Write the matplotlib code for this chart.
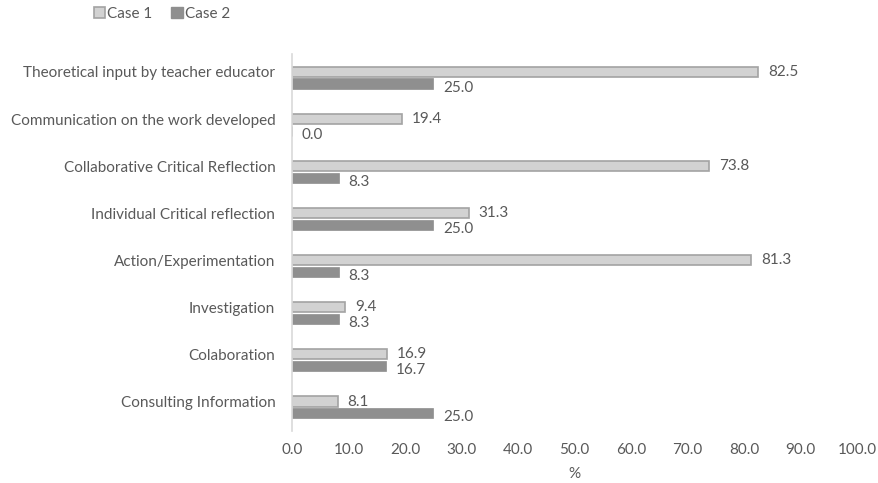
import matplotlib
matplotlib.use("Agg")
import matplotlib.pyplot as plt
from matplotlib.patches import Patch

categories = [
    "Theoretical input by teacher educator",
    "Communication on the work developed",
    "Collaborative Critical Reflection",
    "Individual Critical reflection",
    "Action/Experimentation",
    "Investigation",
    "Colaboration",
    "Consulting Information",
]
case1 = [82.5, 19.4, 73.8, 31.3, 81.3, 9.4, 16.9, 8.1]
case2 = [25.0, 0.0, 8.3, 25.0, 8.3, 8.3, 16.7, 25.0]
xticks = [0, 10, 20, 30, 40, 50, 60, 70, 80, 90, 100]

plt.rcParams["font.family"] = ["Lato", "DejaVu Sans"]
txt = "#595959"
fs = 11

W, H = 879, 483
fig = plt.figure(figsize=(W / 100, H / 100), dpi=100)
ax = fig.add_axes([292 / W, 1 - 431 / H, (857 - 292) / W, (431 - 54) / H])

n = len(categories)
ys = list(range(n))  # top category at 0
bh = 0.215
off = 0.125
c1_face, c1_edge = "#d2d2d2", "#a3a3a3"
c2_face = "#8f8f8f"

ax.barh([y - off for y in ys], case1, height=bh, color=c1_face,
        edgecolor=c1_edge, linewidth=1.2, label="Case 1")
ax.barh([y + off for y in ys], case2, height=bh, color=c2_face,
        edgecolor=c2_face, linewidth=0.5, label="Case 2")

for y, v in zip(ys, case1):
    ax.annotate(f"{v:.1f}", (v, y - off), xytext=(7, 0), textcoords="offset points",
                ha="left", va="center", fontsize=fs, color=txt)
for y, v in zip(ys, case2):
    ax.annotate(f"{v:.1f}", (v, y + off), xytext=(7, -3), textcoords="offset points",
                ha="left", va="center", fontsize=fs, color=txt)

ax.set_ylim(n - 0.5, -0.5)
ax.set_xlim(0, 100)
ax.set_yticks([y - 0.12 for y in ys])
ax.set_yticklabels(categories, fontsize=fs, color=txt)
ax.set_xticks(xticks)
ax.set_xticklabels([f"{t:.1f}" for t in xticks], fontsize=fs, color=txt)
ax.tick_params(axis="both", length=0)
ax.tick_params(axis="y", pad=12)
ax.tick_params(axis="x", pad=9)
ax.set_xlabel("%", fontsize=fs, color=txt, labelpad=7)

for s in ["top", "right", "bottom"]:
    ax.spines[s].set_visible(False)
ax.spines["left"].set_color("#d9d9d9")
ax.spines["left"].set_linewidth(1.2)

handles = [Patch(facecolor=c1_face, edgecolor=c1_edge, linewidth=1.2, label="Case 1"),
           Patch(facecolor=c2_face, edgecolor=c2_face, label="Case 2")]
fig.legend(handles=handles, loc="center left", bbox_to_anchor=(80 / W, 1 - 14 / H),
           ncol=2, frameon=False, fontsize=fs, labelcolor=txt,
           handlelength=0.75, handleheight=0.75, handletextpad=0.15, columnspacing=1.2)

fig.savefig("out.png", dpi=100)
